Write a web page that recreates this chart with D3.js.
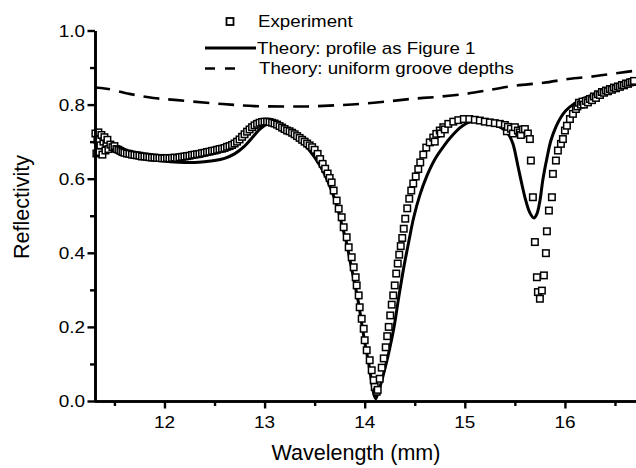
<!DOCTYPE html>
<html><head><meta charset="utf-8">
<script src="https://cdn.jsdelivr.net/npm/d3@7"></script>
<style>html,body{margin:0;padding:0;background:#fff}svg{display:block}</style>
</head><body>
<svg id="c" width="636" height="468"></svg>
<script>
// ---- data ----
const xMajorTicks = [12, 13, 14, 15, 16];
const xMinorTicks = [11.5, 12.5, 13.5, 14.5, 15.5, 16.5];
const yMajorTicks = [0, 0.2, 0.4, 0.6, 0.8, 1.0];
const yMinorTicks = [0.1, 0.3, 0.5, 0.7, 0.9];
const legendLabels = ["Experiment", "Theory: profile as Figure 1", "Theory: uniform groove depths"];
const xLabel = "Wavelength (mm)";
const yLabel = "Reflectivity";

const experiment = [
[11.31,0.722],[11.32,0.668],[11.33,0.705],[11.34,0.725],[11.35,0.672],[11.36,0.69],[11.37,0.718],[11.38,0.665],
[11.39,0.70],[11.40,0.712],[11.41,0.676],[11.42,0.695],[11.43,0.705],[11.44,0.68],[11.46,0.692],[11.48,0.685],
[11.50,0.688],[11.52,0.68],[11.54,0.678],[11.56,0.675],[11.58,0.672],[11.60,0.670],
[11.625,0.668],[11.65,0.667],[11.675,0.665],[11.70,0.664],[11.725,0.663],[11.75,0.662],[11.775,0.660],[11.80,0.660],
[11.825,0.659],[11.85,0.658],[11.875,0.657],[11.90,0.657],[11.925,0.656],[11.95,0.656],[11.975,0.655],[12.00,0.655],
[12.025,0.656],[12.05,0.655],[12.075,0.656],[12.10,0.657],[12.125,0.656],[12.15,0.658],[12.175,0.659],[12.20,0.660],
[12.225,0.661],[12.25,0.662],[12.275,0.664],[12.30,0.665],[12.325,0.666],[12.35,0.667],[12.375,0.669],[12.40,0.670],
[12.425,0.672],[12.45,0.673],[12.475,0.675],[12.50,0.676],[12.525,0.678],[12.55,0.680],[12.575,0.681],[12.60,0.683],
[12.625,0.686],[12.65,0.688],[12.675,0.691],[12.70,0.695],[12.725,0.700],[12.75,0.706],[12.775,0.713],[12.80,0.720],
[12.825,0.727],[12.85,0.733],[12.875,0.739],[12.90,0.744],[12.925,0.748],[12.95,0.751],[12.975,0.753],[13.00,0.754],
[13.025,0.754],[13.05,0.753],[13.075,0.751],[13.10,0.749],[13.125,0.746],[13.15,0.742],[13.175,0.738],[13.20,0.734],
[13.225,0.730],[13.25,0.728],[13.275,0.724],[13.30,0.720],[13.325,0.715],[13.35,0.710],[13.375,0.705],[13.40,0.700],
[13.425,0.695],[13.45,0.690],[13.475,0.685],[13.50,0.678],[13.53,0.667],[13.555,0.653],[13.58,0.640],[13.605,0.627],
[13.63,0.614],[13.65,0.602],[13.67,0.590],[13.69,0.568],[13.72,0.541],[13.74,0.519],[13.77,0.496],[13.79,0.469],
[13.82,0.442],[13.84,0.415],[13.87,0.388],[13.89,0.361],[13.91,0.334],[13.92,0.312],[13.94,0.285],[13.95,0.253],
[13.97,0.222],[13.99,0.195],[14.00,0.164],[14.02,0.137],[14.05,0.110],[14.07,0.083],[14.09,0.056],[14.10,0.038],
[14.12,0.025],[14.13,0.030],[14.15,0.060],[14.17,0.090],[14.19,0.115],[14.21,0.145],[14.225,0.175],[14.24,0.200],
[14.255,0.231],[14.27,0.260],[14.285,0.285],[14.30,0.312],[14.315,0.344],[14.33,0.371],[14.345,0.395],[14.36,0.418],
[14.375,0.440],[14.39,0.465],[14.405,0.492],[14.425,0.520],[14.445,0.546],[14.465,0.568],[14.485,0.587],[14.51,0.606],
[14.535,0.626],[14.555,0.644],[14.585,0.665],[14.615,0.684],[14.65,0.698],[14.685,0.711],[14.70,0.700],[14.715,0.721],
[14.75,0.730],[14.76,0.722],[14.785,0.739],[14.80,0.733],[14.835,0.748],[14.885,0.754],[14.935,0.758],[14.99,0.761],
[15.045,0.761],[15.10,0.759],[15.15,0.757],[15.20,0.754],[15.25,0.752],[15.30,0.750],[15.35,0.748],[15.40,0.745],
[15.42,0.728],[15.43,0.740],[15.46,0.735],[15.48,0.722],[15.50,0.739],[15.53,0.730],[15.55,0.725],[15.56,0.718],
[15.58,0.733],[15.60,0.734],[15.63,0.722],[15.65,0.707],
[15.66,0.649],[15.68,0.550],[15.70,0.429],[15.72,0.334],[15.73,0.294],[15.75,0.276],[15.77,0.298],[15.79,0.339],
[15.81,0.399],[15.82,0.458],[15.84,0.514],[15.87,0.550],[15.88,0.613],[15.91,0.649],[15.93,0.676],[15.96,0.694],
[15.98,0.707],[16.00,0.730],[16.02,0.743],[16.05,0.761],[16.08,0.775],[16.11,0.788],[16.125,0.795],[16.14,0.805],
[16.16,0.800],[16.175,0.808],[16.19,0.800],[16.21,0.810],[16.23,0.806],[16.25,0.815],[16.27,0.812],[16.29,0.822],
[16.31,0.818],[16.33,0.828],[16.35,0.826],[16.37,0.834],[16.39,0.832],[16.41,0.838],[16.43,0.836],[16.45,0.842],
[16.47,0.840],[16.49,0.846],[16.51,0.844],[16.53,0.849],[16.55,0.848],[16.57,0.853],[16.59,0.852],[16.61,0.857],
[16.63,0.856],[16.65,0.860],[16.67,0.861],[16.69,0.864]
];

const theoryProfile = [
[11.30,0.692],[11.40,0.682],[11.50,0.674],[11.60,0.668],[11.70,0.662],[11.80,0.657],[11.90,0.652],[12.00,0.648],
[12.10,0.645],[12.20,0.644],[12.30,0.644],[12.40,0.646],[12.50,0.649],[12.60,0.655],[12.70,0.667],[12.80,0.688],
[12.90,0.718],[12.95,0.733],[13.00,0.744],[13.05,0.749],[13.10,0.749],[13.15,0.745],[13.25,0.730],[13.35,0.705],
[13.45,0.676],[13.55,0.637],[13.62,0.600],[13.68,0.560],[13.72,0.530],[13.77,0.478],[13.82,0.425],[13.86,0.370],
[13.90,0.317],[13.94,0.262],[13.97,0.209],[14.00,0.160],[14.04,0.101],[14.07,0.050],[14.09,0.020],[14.11,0.006],
[14.13,0.020],[14.16,0.045],[14.19,0.075],[14.24,0.130],[14.29,0.195],[14.34,0.280],[14.39,0.360],[14.44,0.430],
[14.49,0.496],[14.55,0.555],[14.62,0.607],[14.70,0.652],[14.79,0.688],[14.87,0.715],[14.95,0.737],[15.02,0.750],
[15.10,0.755],[15.20,0.752],[15.30,0.745],[15.38,0.735],[15.44,0.718],[15.48,0.695],[15.53,0.635],[15.57,0.585],
[15.61,0.540],[15.65,0.508],[15.69,0.494],[15.72,0.505],[15.75,0.540],[15.78,0.598],[15.82,0.655],[15.86,0.703],
[15.91,0.740],[15.96,0.766],[16.01,0.784],[16.10,0.804],[16.18,0.816],[16.27,0.826],[16.35,0.834],[16.45,0.842],
[16.55,0.848],[16.63,0.855],[16.72,0.863]
];

const theoryUniform = [
[11.30,0.846],[11.42,0.843],[11.65,0.829],[11.89,0.818],[12.13,0.812],[12.42,0.805],[12.66,0.800],[12.90,0.796],
[13.19,0.795],[13.43,0.795],[13.70,0.798],[13.96,0.802],[14.24,0.809],[14.49,0.816],[14.73,0.821],[15.01,0.829],
[15.26,0.840],[15.50,0.851],[15.79,0.859],[16.03,0.869],[16.31,0.877],[16.55,0.886],[16.72,0.892]
];

// ---- chart ----
const svg = d3.select("#c");
const x = d3.scaleLinear().domain([11.3, 16.72]).range([94.4, 637]);
const y = d3.scaleLinear().domain([0, 1]).range([401, 30.5]);
const font = "'Liberation Sans', Arial, Helvetica, sans-serif";

const line = d3.line().x(d => x(d[0])).y(d => y(d[1])).curve(d3.curveCatmullRom.alpha(0.5));

svg.append("path").datum(theoryUniform).attr("d", line)
  .attr("fill", "none").attr("stroke", "#000").attr("stroke-width", 2.6)
  .attr("stroke-dasharray", "16,9");
svg.append("path").datum(theoryProfile).attr("d", line)
  .attr("fill", "none").attr("stroke", "#000").attr("stroke-width", 3);

const sq = 6.5;
svg.append("g").selectAll("rect").data(experiment).join("rect")
  .attr("x", d => x(d[0]) - sq/2).attr("y", d => y(d[1]) - sq/2)
  .attr("width", sq).attr("height", sq)
  .attr("fill", "#fff").attr("stroke", "#000").attr("stroke-width", 1.5);

// axes
const gx = svg.append("g").attr("transform", `translate(0,${y(0)})`);
gx.call(d3.axisBottom(x).tickValues(xMajorTicks).tickSize(7.5).tickSizeOuter(0).tickFormat(""));
const gx2 = svg.append("g").attr("transform", `translate(0,${y(0)})`);
gx2.call(d3.axisBottom(x).tickValues(xMinorTicks).tickSize(5).tickSizeOuter(0).tickFormat(""));
const gy = svg.append("g").attr("transform", `translate(${x(11.3)+0.6},0)`);
gy.call(d3.axisLeft(y).tickValues(yMajorTicks).tickSize(7.5).tickSizeOuter(0).tickFormat(""));
const gy2 = svg.append("g").attr("transform", `translate(${x(11.3)+0.6},0)`);
gy2.call(d3.axisLeft(y).tickValues(yMinorTicks).tickSize(5).tickSizeOuter(0).tickFormat(""));
[gx, gx2, gy, gy2].forEach(g => {
  g.selectAll("line").attr("stroke", "#000").attr("stroke-width", 2.4);
  g.select(".domain").attr("stroke", "#000").attr("stroke-width", 2.6);
});

// tick labels
svg.append("g").selectAll("text").data(xMajorTicks).join("text")
  .attr("transform", d => `translate(${x(d)},427.5) scale(1.15,1)`)
  .attr("text-anchor", "middle").attr("font-family", font).attr("font-size", 16.5)
  .text(d => d);
svg.append("g").selectAll("text").data(yMajorTicks).join("text")
  .attr("transform", d => `translate(85,${y(d)+6}) scale(1.15,1)`)
  .attr("text-anchor", "end").attr("font-family", font).attr("font-size", 16.5)
  .text(d => d3.format(".1f")(d));

// axis titles
svg.append("text").attr("x", 356).attr("y", 460).attr("text-anchor", "middle")
  .attr("font-family", font).attr("font-size", 21.5).text(xLabel);
svg.append("text").attr("transform", "translate(29,207) rotate(-90)").attr("text-anchor", "middle")
  .attr("font-family", font).attr("font-size", 21.5).text(yLabel);

// legend
const lg = svg.append("g");
lg.append("rect").attr("x", 230 - 3.5).attr("y", 21.5 - 3.5).attr("width", 7).attr("height", 7)
  .attr("fill", "#fff").attr("stroke", "#000").attr("stroke-width", 1.8);
lg.append("line").attr("x1", 205).attr("x2", 256).attr("y1", 48).attr("y2", 48)
  .attr("stroke", "#000").attr("stroke-width", 3);
lg.append("line").attr("x1", 205).attr("x2", 236).attr("y1", 68.5).attr("y2", 68.5)
  .attr("stroke", "#000").attr("stroke-width", 2.6).attr("stroke-dasharray", "10,10");
const ly = [27.3, 53.8, 74.3];
const lx = [258, 257, 259];
lg.selectAll("text").data(legendLabels).join("text")
  .attr("transform", (d, i) => `translate(${lx[i]},${ly[i]}) scale(1.17,1)`)
  .attr("font-family", font).attr("font-size", 16).text(d => d);
</script>
</body></html>
